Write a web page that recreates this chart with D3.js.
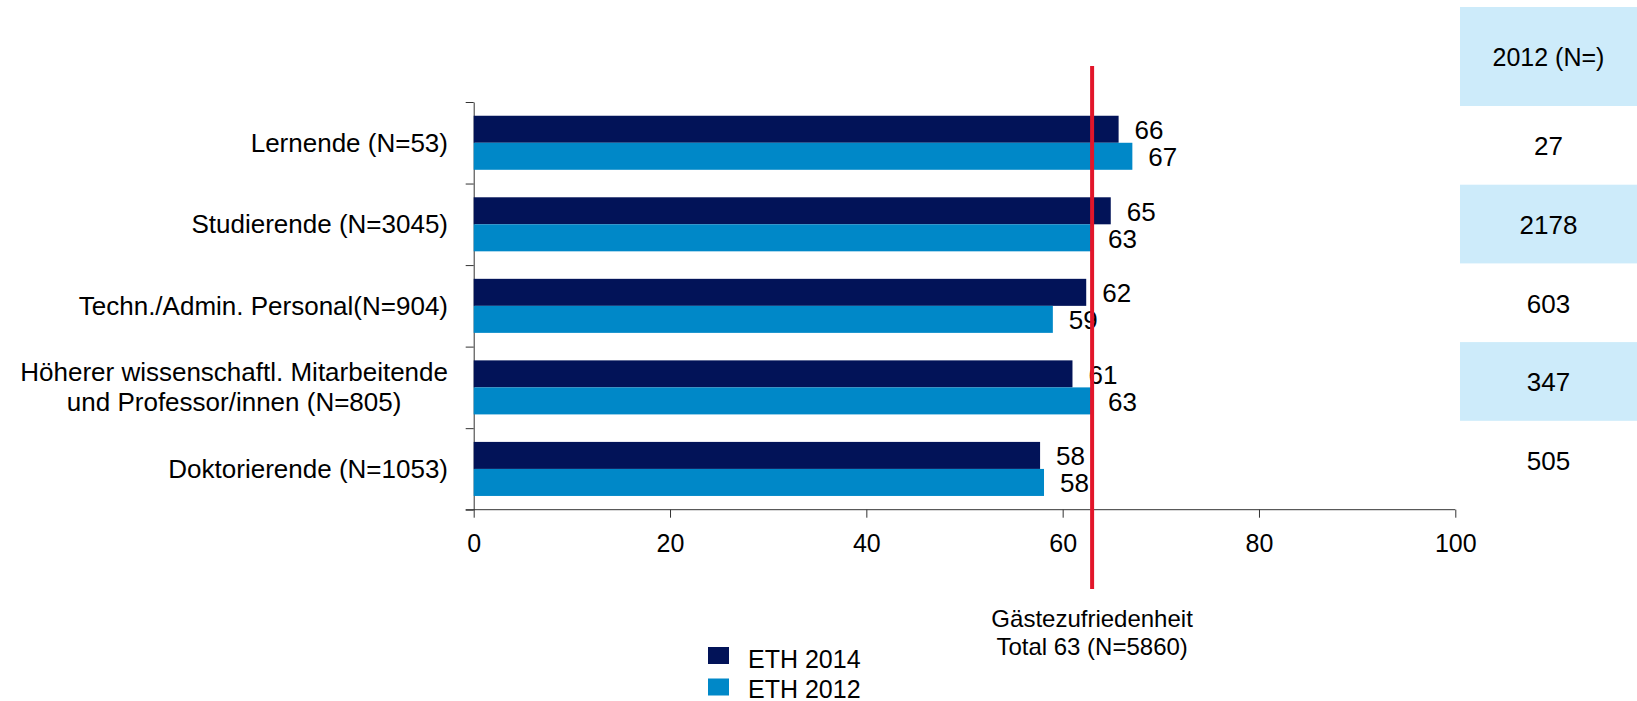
<!DOCTYPE html>
<html>
<head>
<meta charset="utf-8">
<script src="https://cdn.jsdelivr.net/npm/d3@7"></script>
<style>
  body { margin: 0; background: #fff; }
  svg { display: block; font-family: "Liberation Sans", Arial, sans-serif; }
  .axis path, .axis line { stroke: #333; }
</style>
</head>
<body>
<svg id="chart" width="1637" height="701"></svg>
<script>
// data
const categories = [
  ['Lernende (N=53)'],
  ['Studierende (N=3045)'],
  ['Techn./Admin. Personal(N=904)'],
  ['Höherer wissenschaftl. Mitarbeitende', 'und Professor/innen (N=805)'],
  ['Doktorierende (N=1053)']
];
const series = ['ETH 2014', 'ETH 2012'];
const eth2014 = [65.7, 64.9, 62.4, 61.0, 57.7];
const eth2012 = [67.1, 63.0, 59.0, 63.0, 58.1];
const n2012 = [27, 2178, 603, 347, 505];
const tableHeader = '2012 (N=)';
const totalValue = 63;
const totalLabel = ['Gästezufriedenheit', 'Total 63 (N=5860)'];
const xTicks = [0, 20, 40, 60, 80, 100];

const colors = { 'ETH 2014': '#021358', 'ETH 2012': '#0088c8' };

const svg = d3.select('#chart');
const idx = d3.range(categories.length);

const x = d3.scaleLinear().domain([0, 100]).range([473.7, 1455.3]);
const y = d3.scaleBand().domain(idx).range([102, 509.7]).paddingInner(0).paddingOuter(0);
const y1 = d3.scaleBand().domain(series)
  .range([13.75, y.bandwidth() - 13.75]);

// x axis
svg.append('g')
  .attr('class', 'axis')
  .attr('transform', `translate(0,${y.range()[1]})`)
  .call(d3.axisBottom(x).tickValues(xTicks).tickSize(8).tickSizeOuter(8).tickFormat(d3.format('d')))
  .call(g => g.selectAll('text').attr('font-size', 25).attr('fill', '#000').attr('dy', '1.25em'))
  .call(g => g.select('.domain').attr('d', `M${x(0) - 8},0H${x(100)}`));

// y axis, ticks at band boundaries
const yEdges = d3.scaleLinear().domain([0, categories.length]).range(y.range());
svg.append('g')
  .attr('class', 'axis')
  .attr('transform', `translate(${x(0)},0)`)
  .call(d3.axisLeft(yEdges).ticks(categories.length).tickSize(8).tickSizeOuter(0).tickFormat(''));

// bars
const rows = idx.map(i => ({ i, vals: [
  { s: 'ETH 2014', v: eth2014[i] },
  { s: 'ETH 2012', v: eth2012[i] }
] }));

const grp = svg.append('g').selectAll('g')
  .data(rows)
  .join('g')
  .attr('transform', d => `translate(0,${y(d.i)})`);

grp.selectAll('rect')
  .data(d => d.vals)
  .join('rect')
  .attr('x', x(0))
  .attr('y', d => y1(d.s))
  .attr('width', d => x(d.v) - x(0))
  .attr('height', y1.bandwidth())
  .attr('fill', d => colors[d.s]);

grp.selectAll('text.val')
  .data(d => d.vals)
  .join('text')
  .attr('class', 'val')
  .attr('x', d => x(d.v) + 16)
  .attr('y', d => y1(d.s) + y1.bandwidth() / 2 + 1)
  .attr('dominant-baseline', 'central')
  .attr('font-size', 26)
  .text(d => d3.format('.0f')(d.v));

// category labels
const labelRight = 448;
svg.append('g').selectAll('text')
  .data(idx)
  .join('text')
  .attr('font-size', 26)
  .each(function (i) {
    const t = d3.select(this);
    const lines = categories[i];
    const cy = y(i) + y.bandwidth() / 2;
    const lh = 30;
    lines.forEach((l, k) => {
      t.append('tspan')
        .attr('y', cy + (k - (lines.length - 1) / 2) * lh)
        .attr('dominant-baseline', 'central')
        .text(l);
    });
    // right-align the block, centre lines inside it
    const widths = [];
    t.selectAll('tspan').each(function () { widths.push(this.getComputedTextLength()); });
    const w = d3.max(widths);
    t.attr('text-anchor', 'middle');
    t.selectAll('tspan').attr('x', labelRight - w / 2);
  });

// total line
svg.append('line')
  .attr('x1', x(totalValue)).attr('x2', x(totalValue))
  .attr('y1', 66).attr('y2', 589)
  .attr('stroke', '#e2162a')
  .attr('stroke-width', 4);

svg.append('text')
  .attr('text-anchor', 'middle')
  .attr('font-size', 24)
  .selectAll('tspan')
  .data(totalLabel)
  .join('tspan')
  .attr('x', x(totalValue))
  .attr('y', (d, k) => 627 + k * 28)
  .text(d => d);

// legend
const legend = svg.append('g').selectAll('g')
  .data(series)
  .join('g');
legend.append('rect')
  .attr('x', 708)
  .attr('y', (d, k) => 647 + k * 31.5)
  .attr('width', 21).attr('height', 17)
  .attr('fill', d => colors[d]);
legend.append('text')
  .attr('x', 748)
  .attr('y', (d, k) => 668 + k * 29.5)
  .attr('font-size', 25)
  .text(d => d);

// side table, 2012 N
const tx0 = 1460, tx1 = 1637;
const ty = d3.scaleBand().domain(idx).range([106, 499.5]);
const table = svg.append('g');
table.append('rect')
  .attr('x', tx0).attr('y', 7)
  .attr('width', tx1 - tx0).attr('height', 99)
  .attr('fill', '#cdebfa');
table.append('text')
  .attr('x', (tx0 + tx1) / 2).attr('y', 57)
  .attr('text-anchor', 'middle').attr('dominant-baseline', 'central')
  .attr('font-size', 25)
  .text(tableHeader);
table.selectAll('rect.cell')
  .data(idx.filter(i => i % 2 === 1))
  .join('rect')
  .attr('class', 'cell')
  .attr('x', tx0).attr('y', i => ty(i))
  .attr('width', tx1 - tx0).attr('height', ty.bandwidth())
  .attr('fill', '#cdebfa');
table.selectAll('text.num')
  .data(idx)
  .join('text')
  .attr('class', 'num')
  .attr('x', (tx0 + tx1) / 2)
  .attr('y', i => ty(i) + ty.bandwidth() / 2 + 1)
  .attr('text-anchor', 'middle').attr('dominant-baseline', 'central')
  .attr('font-size', 26)
  .text(i => n2012[i]);
</script>
</body>
</html>
